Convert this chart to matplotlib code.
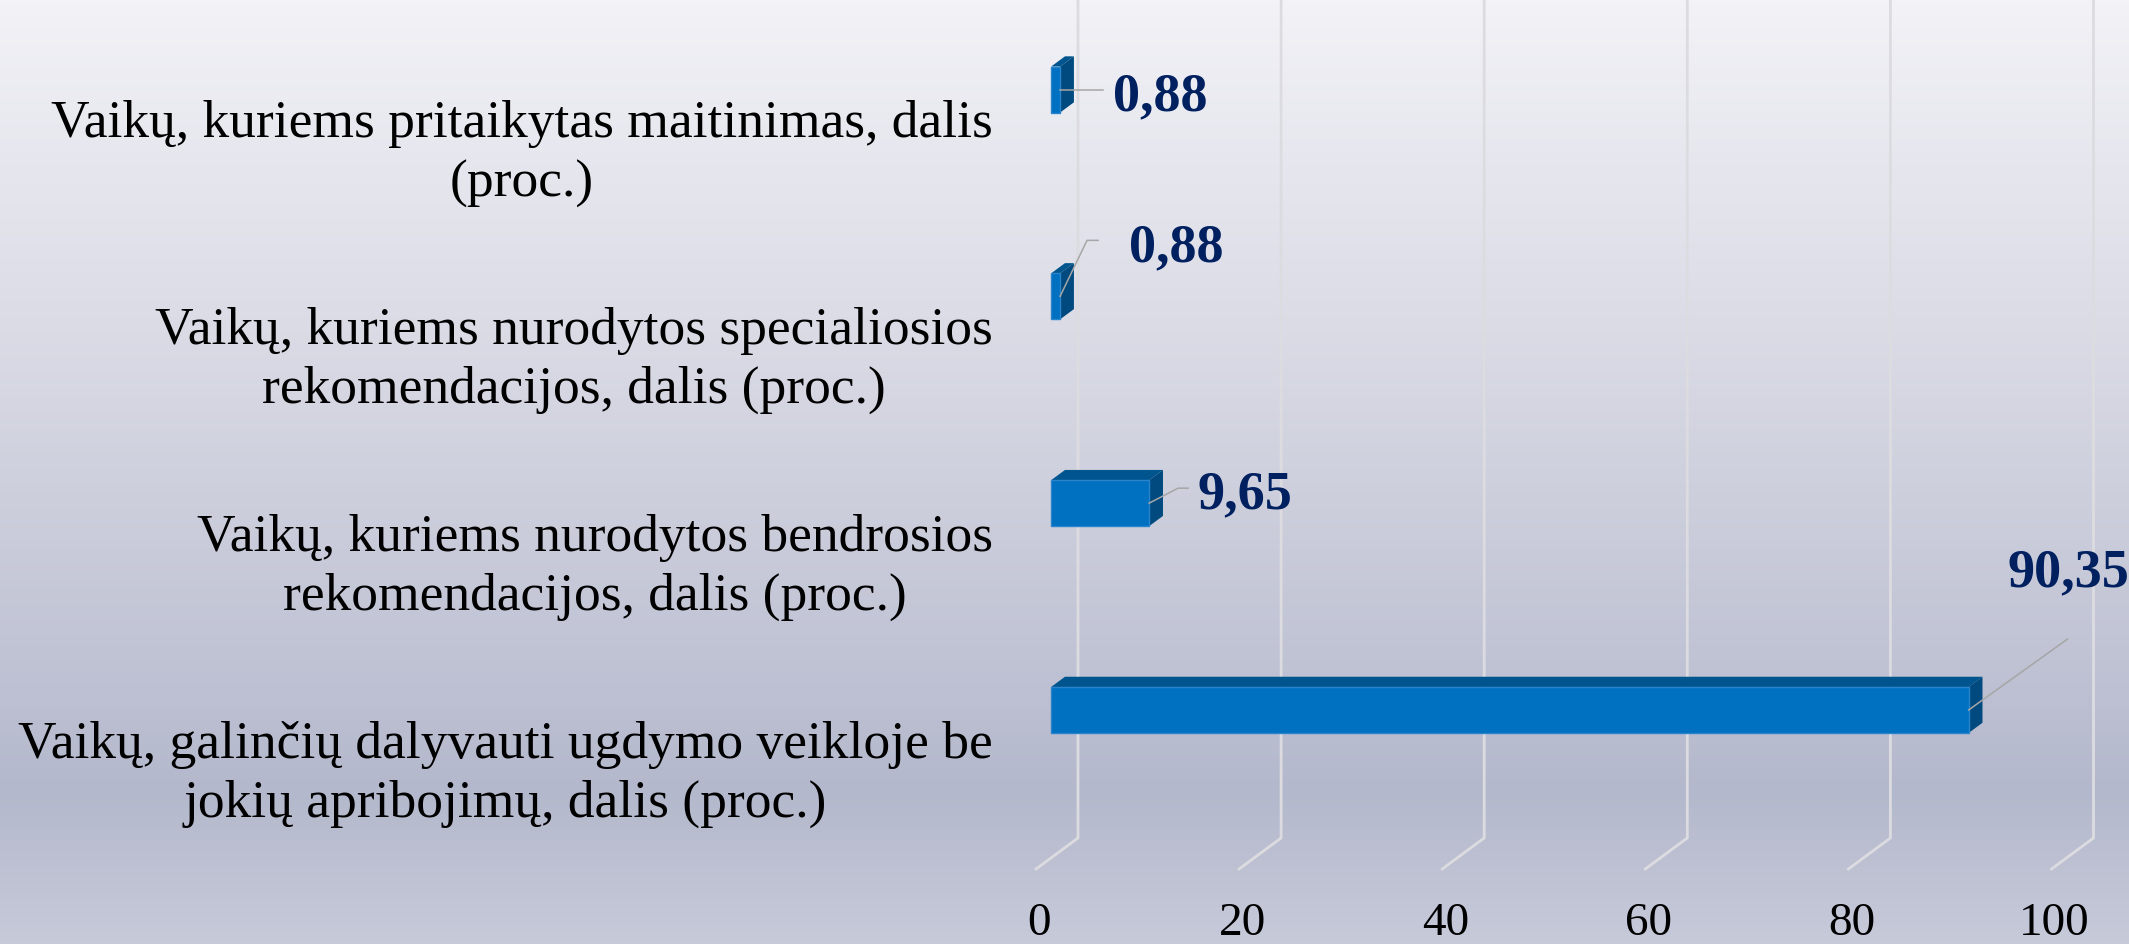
import numpy as np
import matplotlib
matplotlib.use('Agg')
import matplotlib.pyplot as plt
from matplotlib.patches import Polygon
from matplotlib.colors import LinearSegmentedColormap
from matplotlib.transforms import ScaledTranslation

plt.rcParams['font.family'] = ['Liberation Serif', 'DejaVu Serif']

# duomenys
categories = [
    'Vaikų, kuriems pritaikytas maitinimas, dalis\n(proc.)',
    'Vaikų, kuriems nurodytos specialiosios\nrekomendacijos, dalis (proc.)',
    'Vaikų, kuriems nurodytos bendrosios\nrekomendacijos, dalis (proc.)',
    'Vaikų, galinčių dalyvauti ugdymo veikloje be\njokių apribojimų, dalis (proc.)',
]
values = [0.88, 0.88, 9.65, 90.35]
value_labels = ['0,88', '0,88', '9,65', '90,35']
xticks = [0, 20, 40, 60, 80, 100]

W, H = 2129, 944
fig = plt.figure(figsize=(W / 100, H / 100), dpi=100)

# fonas - vertikalus gradientas
bg = fig.add_axes([0, 0, 1, 1])
cmap = LinearSegmentedColormap.from_list('bg', [(0, '#f2f2f7'), (0.35, '#dadbe5'),
                                                (0.7, '#c0c3d4'), (0.84, '#b4b8cc'),
                                                (1, '#c7cad9')])
bg.imshow(np.linspace(0, 1, 256).reshape(-1, 1), aspect='auto', cmap=cmap, extent=[0, 1, 0, 1])
bg.axis('off')

# pagrindine asis (priekine plokstuma)
PX = 10.155   # px vienam procentui
PY = 206.8    # px vienai kategorijai
ax = fig.add_axes([1036 / W, (H - 869) / H, 1015.5 / W, 869 / H])
ax.patch.set_alpha(0)
ax.set_xlim(0, 100)
FLOOR = 3.715
ax.set_ylim(FLOOR, -0.487)
for s in ax.spines.values():
    s.set_visible(False)

# 3D gylis
DX, DY = 42 / PX, -31 / PY
D1, D2 = 0.36, 0.69
BH = 46 / PY

# tinklelis ant galines sienos ir grindu
for t in xticks:
    ax.plot([t, t + DX, t + DX], [FLOOR, FLOOR + DY, -1], color='#dcdce0', lw=2,
            clip_on=False, zorder=1)

y = np.arange(len(values))
yf = y + D1 * DY
left = D1 * DX
ax.barh(yf, values, height=BH, left=left, color='#0070c0', edgecolor='#2a84cc',
        linewidth=1, zorder=4)
ddx, ddy = (D2 - D1) * DX, (D2 - D1) * DY
for yi, v in zip(yf, values):
    top, bot = yi - BH / 2, yi + BH / 2
    x1 = left + v
    ax.add_patch(Polygon([(left, top), (x1, top), (x1 + ddx, top + ddy), (left + ddx, top + ddy)],
                         closed=True, fc='#00558f', ec='none', zorder=3))
    ax.add_patch(Polygon([(x1, top), (x1 + ddx, top + ddy), (x1 + ddx, bot + ddy), (x1, bot)],
                         closed=True, fc='#004a7f', ec='none', zorder=3))

# duomenu etiketes su linijomis (poslinkiai px)
leader_px = [[(0, 0), (43, 0)], [(0, 0), (27, -56), (38, -56)],
             [(0, 0), (29, -15), (39, -15)], [(0, 0), (99, -71)]]
text_px = [(53, 20.5), (69, -35.5), (48, 5), (39, -124)]
for i, v in enumerate(values):
    sx, sy = left + v, yf[i]
    lx = [sx + p[0] / PX for p in leader_px[i]]
    ly = [sy + p[1] / PY for p in leader_px[i]]
    ax.plot(lx, ly, color='#a6a6a6', lw=1.1, clip_on=False, zorder=5)
    ax.text(sx + text_px[i][0] / PX, sy + text_px[i][1] / PY, value_labels[i],
            ha='left', va='baseline', fontsize=39, fontweight='bold', color='#002060',
            clip_on=False, zorder=6)

# asys
ax.set_xticks(xticks)
ax.set_xticklabels([str(t) for t in xticks])
ax.tick_params(axis='x', length=0, pad=24, labelsize=34, colors='black')
for lab in ax.get_xticklabels():
    lab.set_transform(lab.get_transform() + ScaledTranslation(0.03, 0, fig.dpi_scale_trans))
ax.set_yticks(y)
ax.set_yticklabels(categories, multialignment='center', linespacing=1.3)
ax.tick_params(axis='y', length=0, pad=31, labelsize=38.5, colors='black')
for lab in ax.get_yticklabels():
    lab.set_transform(lab.get_transform() + ScaledTranslation(0, -0.42, fig.dpi_scale_trans))

fig.savefig('out.png', dpi=100)
